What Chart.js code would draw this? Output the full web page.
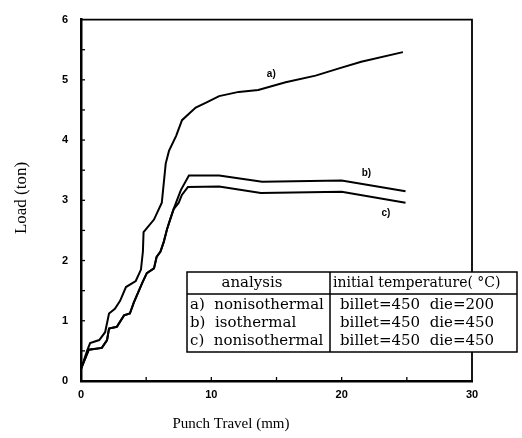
<!DOCTYPE html>
<html>
<head>
<meta charset="utf-8">
<script src="https://cdn.jsdelivr.net/npm/chart.js@4"></script>
<style>
  html, body { margin: 0; padding: 0; background: #fff; }
  #wrap { width: 522px; height: 438px; }
</style>
</head>
<body>
<div id="wrap"><canvas id="chart" width="522" height="438"></canvas></div>
<script>
// curve a) nonisothermal, die=200
const travelA = [0, 0.5, 0.7, 1.4, 1.85, 2.15, 2.6, 3.0, 3.45, 4.2, 4.6, 4.75, 4.8, 5.6, 6.2, 6.5, 6.75, 7.3, 7.75, 8.8, 9.6, 10.6, 12.1, 13.6, 15.7, 18.0, 19.8, 21.5, 24.7];
const loadA   = [0.2, 0.52, 0.63, 0.68, 0.81, 1.12, 1.2, 1.33, 1.56, 1.66, 1.85, 2.15, 2.47, 2.68, 2.96, 3.61, 3.82, 4.07, 4.33, 4.54, 4.62, 4.73, 4.8, 4.83, 4.96, 5.07, 5.19, 5.3, 5.46];

// curve b) isothermal
const travelB = [0, 0.6, 1.6, 2.0, 2.15, 2.75, 3.3, 3.75, 4.05, 4.7, 5.05, 5.6, 5.8, 6.1, 6.35, 6.6, 6.9, 7.1, 7.36, 7.66, 8.28, 10.6, 13.9, 20, 24.9];
const loadB   = [0.2, 0.52, 0.55, 0.68, 0.87, 0.9, 1.09, 1.12, 1.3, 1.63, 1.79, 1.87, 2.06, 2.15, 2.31, 2.52, 2.72, 2.85, 3.0, 3.17, 3.41, 3.41, 3.31, 3.33, 3.15];

// curve c) nonisothermal, die=450
const travelC = [0, 0.6, 1.6, 2.0, 2.15, 2.75, 3.3, 3.75, 4.05, 4.7, 5.05, 5.6, 5.8, 6.1, 6.35, 6.6, 6.9, 7.1, 7.5, 7.74, 8.2, 10.6, 13.8, 20, 24.9];
const loadC   = [0.2, 0.52, 0.55, 0.68, 0.87, 0.9, 1.09, 1.12, 1.3, 1.63, 1.79, 1.87, 2.06, 2.15, 2.31, 2.52, 2.72, 2.85, 2.96, 3.09, 3.22, 3.23, 3.12, 3.14, 2.96];

const curveLabels = ["a)", "b)", "c)"];
const tableHeader = ["analysis", "initial temperature( \u00B0C)"];
const tableAnalysis = ["a)  nonisothermal", "b)  isothermal", "c)  nonisothermal"];
const tableTemps = ["billet=450  die=200", "billet=450  die=450", "billet=450  die=450"];

const toPoints = (xs, ys) => xs.map((x, i) => ({ x: x, y: ys[i] }));

const decorations = {
  id: "decorations",
  afterDraw(chart) {
    const ctx = chart.ctx;
    const xs = chart.scales.x, ys = chart.scales.y;
    const area = chart.chartArea;
    ctx.save();
    ctx.strokeStyle = "#000";
    ctx.fillStyle = "#000";

    // top and right frame
    ctx.lineWidth = 1.8;
    ctx.beginPath();
    ctx.moveTo(area.left, area.top);
    ctx.lineTo(area.right, area.top);
    ctx.lineTo(area.right, area.bottom);
    ctx.stroke();

    // inward ticks
    ctx.lineWidth = 1.3;
    for (let v = 0.5; v < 6; v += 0.5) {
      const py = ys.getPixelForValue(v);
      ctx.beginPath();
      ctx.moveTo(area.left, py);
      ctx.lineTo(area.left + 4, py);
      ctx.stroke();
    }
    for (let v = 5; v < 30; v += 5) {
      const px = xs.getPixelForValue(v);
      ctx.beginPath();
      ctx.moveTo(px, area.bottom);
      ctx.lineTo(px, area.bottom - 4);
      ctx.stroke();
    }

    // curve labels
    ctx.font = "bold 10px 'Liberation Sans', sans-serif";
    ctx.textAlign = "center";
    ctx.textBaseline = "middle";
    ctx.fillText(curveLabels[0], xs.getPixelForValue(14.6), ys.getPixelForValue(5.1));
    ctx.fillText(curveLabels[1], xs.getPixelForValue(21.9), ys.getPixelForValue(3.45));
    ctx.fillText(curveLabels[2], xs.getPixelForValue(23.4), ys.getPixelForValue(2.78));

    // axis titles
    ctx.font = "15px 'Liberation Serif', serif";
    ctx.fillText("Punch Travel (mm)", 231, 424);
    ctx.save();
    ctx.translate(22, 198);
    ctx.rotate(-Math.PI / 2);
    ctx.font = "17px 'Liberation Serif', serif";
    ctx.fillText("Load (ton)", 0, 0);
    ctx.restore();

    // table
    const tl = 187, tr = 517, tt = 272, th = 294, tb = 352, tc = 330;
    ctx.fillStyle = "#fff";
    ctx.fillRect(tl, tt, tr - tl, tb - tt);
    ctx.fillStyle = "#000";
    ctx.lineWidth = 1.5;
    ctx.strokeRect(tl, tt, tr - tl, tb - tt);
    ctx.beginPath();
    ctx.moveTo(tl, th); ctx.lineTo(tr, th);
    ctx.moveTo(tc, tt); ctx.lineTo(tc, tb);
    ctx.stroke();

    ctx.font = "15px 'DejaVu Serif', serif";
    ctx.textAlign = "center";
    ctx.fillText(tableHeader[0], 252, 283);
    ctx.textAlign = "left";
    ctx.font = "14px 'DejaVu Serif', serif";
    ctx.fillText(tableHeader[1], 333, 283);
    ctx.font = "15px 'DejaVu Serif', serif";
    const rowY = [305, 323, 341];
    rowY.forEach((y, i) => {
      ctx.fillText(tableAnalysis[i], 190, y);
      ctx.fillText(tableTemps[i], 340, y);
    });
    ctx.restore();
  }
};

const lineStyle = {
  borderColor: "#000",
  borderWidth: 2,
  pointRadius: 0,
  tension: 0,
  fill: false
};

new Chart(document.getElementById("chart"), {
  type: "line",
  data: {
    datasets: [
      Object.assign({ label: "a", data: toPoints(travelA, loadA) }, lineStyle),
      Object.assign({ label: "b", data: toPoints(travelB, loadB) }, lineStyle),
      Object.assign({ label: "c", data: toPoints(travelC, loadC) }, lineStyle)
    ]
  },
  options: {
    responsive: false,
    animation: false,
    layout: { padding: { top: 13, right: 50, left: 0, bottom: 0 } },
    plugins: {
      legend: { display: false },
      tooltip: { enabled: false }
    },
    scales: {
      x: {
        type: "linear",
        min: 0,
        max: 30,
        afterFit: (s) => { s.height = 57; },
        grid: { display: false, drawTicks: false },
        border: { display: true, color: "#000", width: 2.5 },
        ticks: {
          stepSize: 10,
          padding: 7,
          color: "#000",
          font: { family: "'Liberation Sans', sans-serif", size: 11, weight: "bold" }
        }
      },
      y: {
        min: 0,
        max: 6,
        afterFit: (s) => { s.width = 81; },
        grid: { display: false, drawTicks: false },
        border: { display: true, color: "#000", width: 2.5 },
        ticks: {
          stepSize: 1,
          padding: 13,
          color: "#000",
          font: { family: "'Liberation Sans', sans-serif", size: 11, weight: "bold" }
        }
      }
    }
  },
  plugins: [decorations]
});
</script>
</body>
</html>
